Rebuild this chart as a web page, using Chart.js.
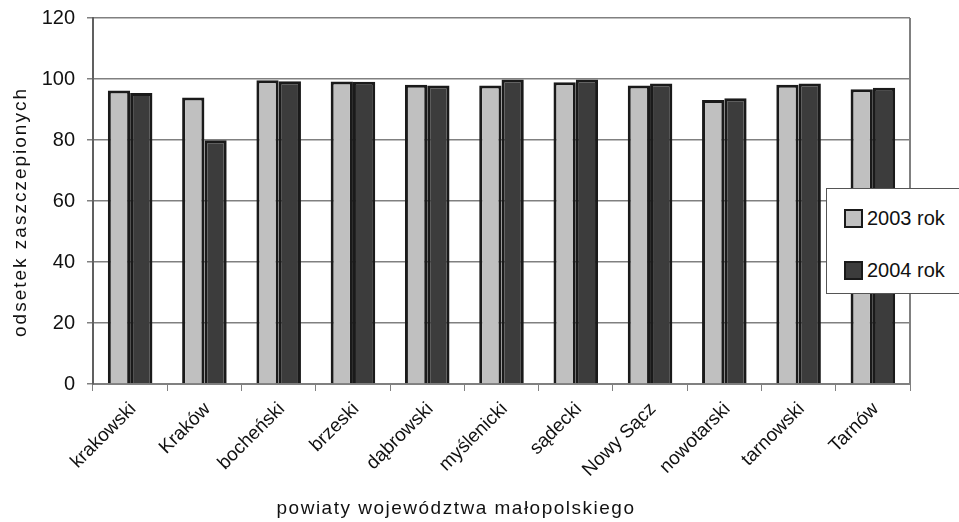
<!DOCTYPE html>
<html>
<head>
<meta charset="utf-8">
<script src="https://cdn.jsdelivr.net/npm/chart.js@4/dist/chart.umd.min.js"></script>
<style>
  body { margin: 0; background: #fff; }
  #wrap { position: relative; width: 959px; height: 522px; }
  #legend {
    position: absolute; left: 826px; top: 188px; width: 140px; height: 106px;
    border: 1px solid #555; background: #fff; box-sizing: border-box;
    font-family: "Liberation Sans", Arial, sans-serif; font-size: 20px; color: #111;
  }
  .item { position: absolute; left: 17px; display: flex; align-items: center; height: 22px; }
  .sw { width: 19px; height: 19px; border: 2px solid #1a1a1a; box-sizing: border-box; margin-right: 4px; }
</style>
</head>
<body>
<div id="wrap">
  <canvas id="chart" width="959" height="522"></canvas>
  <div id="legend">
    <div class="item" style="top:18px"><span class="sw" style="background:#c0c0c0"></span>2003 rok</div>
    <div class="item" style="top:70px"><span class="sw" style="background:#3c3c3c"></span>2004 rok</div>
  </div>
</div>
<script>
const categories = ['krakowski', 'Kraków', 'bocheński', 'brzeski', 'dąbrowski', 'myślenicki',
  'sądecki', 'Nowy Sącz', 'nowotarski', 'tarnowski', 'Tarnów']
const values2003 = [96.2, 93.9, 99.6, 99.2, 98.1, 97.9, 98.9, 97.9, 93.1, 98.1, 96.6]
const values2004 = [95.4, 79.9, 99.3, 99.1, 97.9, 99.8, 99.8, 98.5, 93.7, 98.5, 97.1]
const yTicks = [0, 20, 40, 60, 80, 100, 120]

const font = "'Liberation Sans', Arial, sans-serif"

// right frame of the plot + both axis titles (with the wide letter spacing of the original)
const extras = {
    id: 'extras',
    afterDraw(chart) {
        const ctx = chart.ctx
        const a = chart.chartArea
        ctx.save()
        ctx.strokeStyle = '#808080'
        ctx.lineWidth = 2
        ctx.beginPath()
        ctx.moveTo(a.right, a.top)
        ctx.lineTo(a.right, a.bottom)
        ctx.stroke()

        ctx.fillStyle = '#111'
        ctx.font = '19px ' + font
        ctx.letterSpacing = '1.5px'
        ctx.textAlign = 'center'
        ctx.textBaseline = 'middle'
        ctx.fillText('powiaty województwa małopolskiego', 456, 509)

        ctx.translate(21, 212)
        ctx.rotate(-Math.PI / 2)
        ctx.letterSpacing = '2px'
        ctx.fillText('odsetek zaszczepionych', 0, 0)
        ctx.restore()
    }
}

new Chart(document.getElementById('chart'), {
    type: 'bar',
    data: {
        labels: categories,
        datasets: [{
            label: '2003 rok',
            data: values2003,
            backgroundColor: '#c0c0c0',
            borderColor: '#1a1a1a',
            borderWidth: 3,
            categoryPercentage: 0.6,
            barPercentage: 1.0
        }, {
            label: '2004 rok',
            data: values2004,
            backgroundColor: '#3c3c3c',
            borderColor: '#1a1a1a',
            borderWidth: 3,
            categoryPercentage: 0.6,
            barPercentage: 1.0
        }]
    },
    options: {
        responsive: false,
        animation: false,
        layout: { padding: { top: 18, right: 49, left: 0, bottom: 0 } },
        plugins: { legend: { display: false }, tooltip: { enabled: false } },
        scales: {
            x: {
                afterFit: s => { s.height = 138 },
                grid: { offset: true, drawOnChartArea: false, color: '#808080', tickLength: 7, lineWidth: 1 },
                border: { color: '#808080', width: 2 },
                ticks: {
                    color: '#111', font: { family: font, size: 19 },
                    maxRotation: 45, minRotation: 45, padding: 7, labelOffset: 3
                }
            },
            y: {
                min: 0, max: 120,
                afterFit: s => { s.width = 93; s.paddingTop = 0; s.paddingBottom = 0 },
                afterBuildTicks: s => { s.ticks = yTicks.map(v => ({ value: v })) },
                grid: { color: '#808080', lineWidth: 1.5, tickLength: 6 },
                border: { color: '#606060', width: 2 },
                ticks: { color: '#111', font: { family: font, size: 20 }, padding: 12 }
            }
        }
    },
    plugins: [extras]
})
</script>
</body>
</html>
